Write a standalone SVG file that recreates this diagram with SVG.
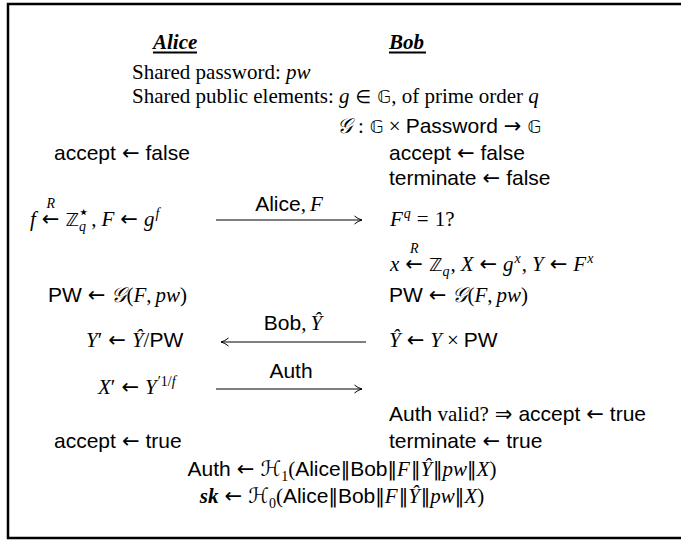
<svg xmlns="http://www.w3.org/2000/svg" width="681" height="541" viewBox="0 0 681 541">
<style>
text{font-family:"Liberation Serif","DejaVu Serif",serif;font-size:21px;fill:#000}
.sf{font-family:"Liberation Sans","DejaVu Sans",sans-serif}
.it{font-style:italic}
.bb{font-family:"DejaVu Sans",sans-serif;font-size:18px}
.cal{font-family:"DejaVu Serif","DejaVu Sans",serif;font-style:italic}
.sym{font-family:"DejaVu Sans",sans-serif;font-size:18px}
.ar{font-family:"DejaVu Sans",sans-serif;font-size:21px}
.bar{font-family:"DejaVu Sans",sans-serif;font-size:19px;font-weight:normal}
.hdr{font-weight:bold;font-style:italic}
.sm{font-size:14px}
.line{stroke:#000;stroke-width:1.1;fill:none}
</style>
<defs>
<marker id="ah" markerWidth="12" markerHeight="10" refX="9" refY="5" orient="auto" markerUnits="userSpaceOnUse">
<path d="M1.5,1 Q5,4 9,5 Q5,6 1.5,9" fill="none" stroke="#000" stroke-width="1"/>
</marker>
</defs>
<rect x="8" y="4" width="690" height="534" fill="#fff" stroke="#000" stroke-width="2.5"/>

<g id="alice-header"><text x="153" y="49" class="hdr">Alice</text><line x1="153" y1="52.5" x2="197" y2="52.5" stroke="#000" stroke-width="2"/></g>
<g id="bob-header"><text x="389" y="49" class="hdr">Bob</text><line x1="389" y1="52.5" x2="426" y2="52.5" stroke="#000" stroke-width="2"/></g>

<g id="shared">
<text x="132" y="79">Shared password: <tspan class="it">pw</tspan></text>
<text x="132" y="103">Shared public elements: <tspan class="it">g</tspan><tspan class="sym" dx="6">∈</tspan><tspan class="bb" dx="6">𝔾</tspan>, of prime order <tspan class="it">q</tspan></text>
<text x="337" y="133"><tspan class="cal">𝒢</tspan><tspan dx="6">:</tspan><tspan class="bb" dx="6">𝔾</tspan><tspan dx="5">×</tspan><tspan class="sf" dx="5">Password</tspan><tspan class="ar" dx="6">→</tspan><tspan class="bb" dx="6">𝔾</tspan></text>
</g>

<g id="alice-init"><text x="54" y="160"><tspan class="sf">accept</tspan><tspan class="ar" dx="6">←</tspan><tspan class="sf" dx="6">false</tspan></text></g>
<g id="bob-init">
<text x="389" y="160"><tspan class="sf">accept</tspan><tspan class="ar" dx="6">←</tspan><tspan class="sf" dx="6">false</tspan></text>
<text x="389" y="185"><tspan class="sf">terminate</tspan><tspan class="ar" dx="6">←</tspan><tspan class="sf" dx="6">false</tspan></text>
</g>

<g id="alice-f">
<text x="30" y="226"><tspan class="it">f</tspan><tspan class="ar" dx="6">←</tspan><tspan class="sm it" dx="-13" dy="-18">R</tspan><tspan class="bb" dx="10.5" dy="18">ℤ</tspan><tspan class="sm it" dy="5">q</tspan><tspan class="sym" dy="-13" dx="-8" font-size="12">⋆</tspan><tspan dy="8" dx="2">,</tspan><tspan class="it" dx="5">F</tspan><tspan class="ar" dx="6">←</tspan><tspan class="it" dx="6">g</tspan><tspan class="sm it" dy="-8" dx="1">f</tspan></text>
</g>

<g id="bob-check">
<text x="390" y="226"><tspan class="it">F</tspan><tspan class="sm it" dy="-8" dx="1">q</tspan><tspan dy="8" dx="6">=</tspan><tspan dx="6">1?</tspan></text>
<text x="390" y="271"><tspan class="it">x</tspan><tspan class="ar" dx="6">←</tspan><tspan class="sm it" dx="-13" dy="-18">R</tspan><tspan class="bb" dx="10.5" dy="18">ℤ</tspan><tspan class="sm it" dy="5">q</tspan><tspan dy="-5" dx="1">,</tspan><tspan class="it" dx="5">X</tspan><tspan class="ar" dx="6">←</tspan><tspan class="it" dx="6">g</tspan><tspan class="sm it" dy="-8" dx="1">x</tspan><tspan dy="8" dx="1">,</tspan><tspan class="it" dx="5">Y</tspan><tspan class="ar" dx="6">←</tspan><tspan class="it" dx="6">F</tspan><tspan class="sm it" dy="-8" dx="1">x</tspan></text>
</g>

<g id="alice-pw"><text x="48" y="302"><tspan class="sf">PW</tspan><tspan class="ar" dx="6">←</tspan><tspan class="cal" dx="6">𝒢</tspan>(<tspan class="it">F</tspan>,<tspan class="it" dx="4">pw</tspan>)</text></g>
<g id="bob-pw"><text x="389" y="302"><tspan class="sf">PW</tspan><tspan class="ar" dx="6">←</tspan><tspan class="cal" dx="6">𝒢</tspan>(<tspan class="it">F</tspan>,<tspan class="it" dx="4">pw</tspan>)</text></g>

<g id="alice-y"><text x="86" y="347"><tspan class="it">Y</tspan>′<tspan class="ar" dx="6">←</tspan><tspan class="it" dx="6">Ŷ</tspan>/<tspan class="sf">PW</tspan></text></g>
<g id="bob-yhat"><text x="389" y="347"><tspan class="it">Ŷ</tspan><tspan class="ar" dx="6">←</tspan><tspan class="it" dx="6">Y</tspan><tspan dx="5">×</tspan><tspan class="sf" dx="5">PW</tspan></text></g>

<g id="alice-x"><text x="98" y="394"><tspan class="it">X</tspan>′<tspan class="ar" dx="6">←</tspan><tspan class="it" dx="6">Y</tspan><tspan class="sm" dy="-8" dx="1">′1/</tspan><tspan class="sm it">f</tspan></text></g>

<g id="bob-final">
<text x="389" y="421"><tspan class="sf">Auth</tspan> valid?<tspan class="ar" dx="6">⇒</tspan><tspan class="sf" dx="6">accept</tspan><tspan class="ar" dx="6">←</tspan><tspan class="sf" dx="6">true</tspan></text>
<text x="389" y="448"><tspan class="sf">terminate</tspan><tspan class="ar" dx="6">←</tspan><tspan class="sf" dx="6">true</tspan></text>
</g>
<g id="alice-final"><text x="54" y="448"><tspan class="sf">accept</tspan><tspan class="ar" dx="6">←</tspan><tspan class="sf" dx="6">true</tspan></text></g>

<g id="keys">
<text x="342" y="476" text-anchor="middle"><tspan class="sf">Auth</tspan><tspan class="ar" dx="6">←</tspan><tspan class="cal" dx="6">ℋ</tspan><tspan class="sm" dy="5">1</tspan><tspan dy="-5">(</tspan><tspan class="sf">Alice</tspan><tspan class="bar">‖</tspan><tspan class="sf">Bob</tspan><tspan class="bar">‖</tspan><tspan class="it">F</tspan><tspan class="bar" dx="1">‖</tspan><tspan class="it">Ŷ</tspan><tspan class="bar" dx="1">‖</tspan><tspan class="it">pw</tspan><tspan class="bar">‖</tspan><tspan class="it">X</tspan>)</text>
<text x="342" y="503" text-anchor="middle"><tspan class="it" font-weight="bold">sk</tspan><tspan class="ar" dx="6">←</tspan><tspan class="cal" dx="6">ℋ</tspan><tspan class="sm" dy="5">0</tspan><tspan dy="-5">(</tspan><tspan class="sf">Alice</tspan><tspan class="bar">‖</tspan><tspan class="sf">Bob</tspan><tspan class="bar">‖</tspan><tspan class="it">F</tspan><tspan class="bar" dx="1">‖</tspan><tspan class="it">Ŷ</tspan><tspan class="bar" dx="1">‖</tspan><tspan class="it">pw</tspan><tspan class="bar">‖</tspan><tspan class="it">X</tspan>)</text>
</g>

<g id="connectors">
<line class="line" x1="216" y1="220" x2="362" y2="220" marker-end="url(#ah)"/>
<text x="289" y="211" text-anchor="middle"><tspan class="sf">Alice</tspan>,<tspan class="it" dx="4">F</tspan></text>
<line class="line" x1="366" y1="342" x2="221" y2="342" marker-end="url(#ah)"/>
<text x="293" y="330" text-anchor="middle"><tspan class="sf">Bob</tspan>,<tspan class="it" dx="4">Ŷ</tspan></text>
<line class="line" x1="216" y1="389" x2="362" y2="389" marker-end="url(#ah)"/>
<text x="291" y="378" text-anchor="middle" class="sf">Auth</text>
</g>
</svg>
